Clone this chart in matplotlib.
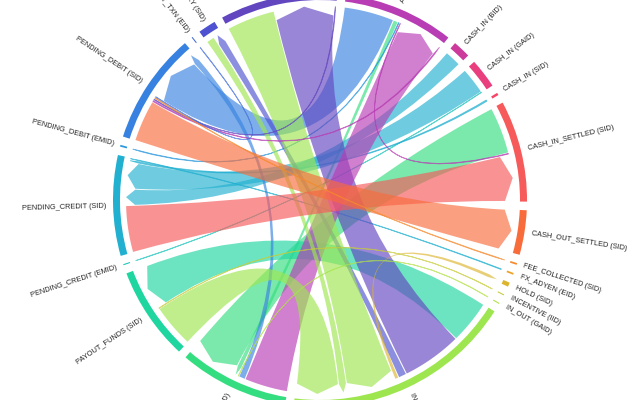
import numpy as np
import matplotlib.pyplot as plt
from matplotlib.path import Path
from matplotlib.patches import PathPatch, Wedge

names = ["ADJUSTMENT (SID)", "CASH_IN (BID)", "CASH_IN (GAID)", "CASH_IN (SID)",
         "CASH_IN_SETTLED (SID)", "CASH_OUT_SETTLED (SID)", "FEE_COLLECTED (SID)",
         "FX_ADYEN (EID)", "HOLD (SID)", "INCENTIVE (IID)", "IN_OUT (GAID)",
         "IN_OUT (SID)", "PAYOUT (GAID)", "PAYOUT_FUNDS (SID)", "PENDING_CREDIT (EMID)",
         "PENDING_CREDIT (SID)", "PENDING_DEBIT (EMID)", "PENDING_DEBIT (SID)",
         "POST_TXN (EID)", "TREASURY (SID)", "WALLET (SID)"]
colors = ["#b83cb4", "#cc3a9c", "#ea3f7e", "#f5466a", "#f65a5a", "#f86c3c", "#f58a2e",
          "#eaa22a", "#dcb52e", "#c8cc38", "#b4e048", "#9ee650", "#34de80", "#1fd6a0",
          "#1cc4bc", "#21b0d0", "#2a98dc", "#3782e0", "#4470da", "#4e52d0", "#6246c0"]

# flows: source -> target (arrow points at target, ribbon coloured by target)
sources = ["ADJUSTMENT (SID)", "ADJUSTMENT (SID)", "ADJUSTMENT (SID)",
           "CASH_IN (BID)", "CASH_IN (GAID)", "CASH_IN (GAID)", "CASH_IN (SID)",
           "CASH_IN_SETTLED (SID)", "CASH_IN_SETTLED (SID)", "FX_ADYEN (EID)",
           "IN_OUT (SID)", "IN_OUT (SID)", "IN_OUT (SID)", "IN_OUT (SID)",
           "PAYOUT (GAID)", "PAYOUT (GAID)", "PAYOUT (GAID)",
           "WALLET (SID)", "TREASURY (SID)",
           "PAYOUT_FUNDS (SID)", "PAYOUT_FUNDS (SID)",
           "PENDING_CREDIT (SID)",
           "PENDING_DEBIT (SID)", "PENDING_DEBIT (SID)", "PENDING_DEBIT (SID)",
           "PENDING_DEBIT (SID)", "PENDING_DEBIT (SID)"]
targets = ["PENDING_DEBIT (SID)", "PAYOUT (GAID)", "PENDING_DEBIT (EMID)",
           "PENDING_CREDIT (SID)", "PENDING_CREDIT (SID)", "PENDING_CREDIT (EMID)",
           "PENDING_CREDIT (SID)",
           "PAYOUT (GAID)", "ADJUSTMENT (SID)", "PENDING_CREDIT (SID)",
           "PAYOUT_FUNDS (SID)", "WALLET (SID)", "TREASURY (SID)", "HOLD (SID)",
           "ADJUSTMENT (SID)", "PENDING_DEBIT (SID)", "IN_OUT (GAID)",
           "IN_OUT (SID)", "IN_OUT (SID)",
           "IN_OUT (SID)", "INCENTIVE (IID)",
           "CASH_IN_SETTLED (SID)",
           "CASH_OUT_SETTLED (SID)", "ADJUSTMENT (SID)", "WALLET (SID)",
           "FEE_COLLECTED (SID)", "POST_TXN (EID)"]
values = [15, 1.5, 0.5,
          5, 8, 0.3, 0.7,
          14, 0.5, 0.5,
          13, 18, 2.5, 1.2,
          13, 2, 0.3,
          14.5, 2.5,
          13, 0.3,
          14,
          12.5, 0.6, 0.5,
          0.5, 0.3]

fig = plt.figure(figsize=(6.4, 4), dpi=100)
ax = fig.add_axes([0, 0, 1, 1])
ax.set_xlim(-320, 320)
ax.set_ylim(-200, 200)
ax.set_aspect("equal")
ax.axis("off")

n = len(names)
idx = {nm: i for i, nm in enumerate(names)}
r_in, r_out = 200, 207
r_rib, head = 194, 9
pad = np.radians(2.4)
start = np.radians(7.2)

totals = np.zeros(n)
for s, t, v in zip(sources, targets, values):
    totals[idx[s]] += v
    totals[idx[t]] += v
k = (2 * np.pi - pad * n) / totals.sum()

src_ang, tgt_ang, groups = {}, {}, []
x = start
for i in range(n):
    x0 = x
    for f, (s, v) in enumerate(zip(sources, values)):
        if idx[s] == i:
            src_ang[f] = (x, x + v * k)
            x += v * k
    for f, (t, v) in enumerate(zip(targets, values)):
        if idx[t] == i:
            tgt_ang[f] = (x, x + v * k)
            x += v * k
    groups.append((x0, x))
    x += pad


def pt(r, a):
    return (r * np.sin(a), r * np.cos(a))


def shrink(a0, a1, ap):
    ap = min(ap, (a1 - a0) * 0.3)
    return a0 + ap, a1 - ap


rpad = 0.5 / r_rib
for f in range(len(values)):
    sa0, sa1 = shrink(*src_ang[f], rpad)
    ta0, ta1 = shrink(*tgt_ang[f], rpad)
    arc = np.linspace(sa0, sa1, max(2, int((sa1 - sa0) / 0.005)))
    verts = [pt(r_rib, a) for a in arc]
    codes = [Path.MOVETO] + [Path.LINETO] * (len(arc) - 1)
    tm = (ta0 + ta1) / 2
    verts += [(0, 0), pt(r_rib - head, ta0), pt(r_rib, tm), pt(r_rib - head, ta1),
              (0, 0), pt(r_rib, sa0), (0, 0)]
    codes += [Path.CURVE3, Path.CURVE3, Path.LINETO, Path.LINETO,
              Path.CURVE3, Path.CURVE3, Path.CLOSEPOLY]
    col = colors[idx[targets[f]]]
    thin = values[f] < 1
    ax.add_patch(PathPatch(Path(verts, codes), facecolor=col, alpha=0.65,
                           edgecolor=col if thin else "none", lw=0.6 if thin else 0))

for i, (a0, a1) in enumerate(groups):
    ax.add_patch(Wedge((0, 0), r_out, 90 - np.degrees(a1), 90 - np.degrees(a0),
                       width=r_out - r_in, facecolor=colors[i], edgecolor="none"))
    m = (a0 + a1) / 2
    th = (90 - np.degrees(m)) % 360
    lx, ly = pt(r_out + 7, m)
    if th <= 90 or th >= 270:
        ax.text(lx, ly, names[i], rotation=th, ha="left", va="center",
                rotation_mode="anchor", fontsize=5.3, color="#222222",
                family="Liberation Sans")
    else:
        ax.text(lx, ly, names[i], rotation=th - 180, ha="right", va="center",
                rotation_mode="anchor", fontsize=5.3, color="#222222",
                family="Liberation Sans")

fig.savefig("out.png", dpi=100)
